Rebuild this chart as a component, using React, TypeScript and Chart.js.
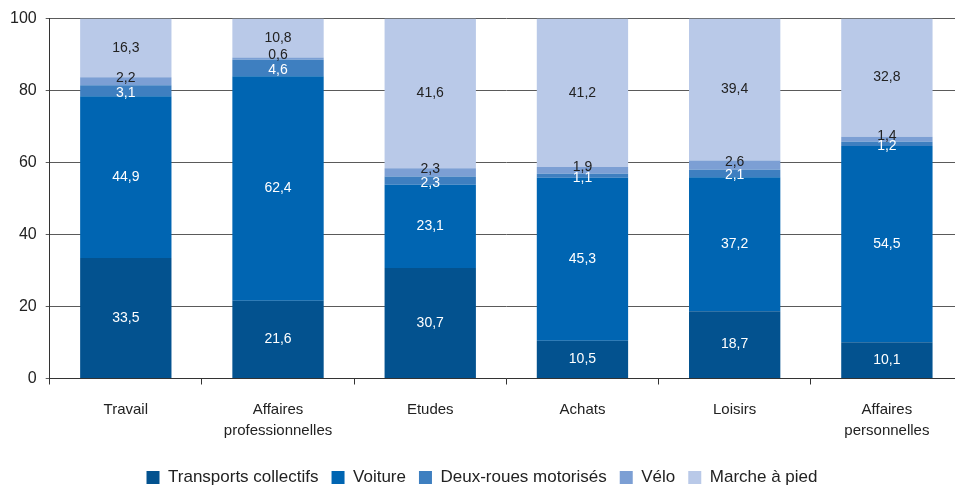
import React, { useEffect, useRef } from "react";
import { Chart, registerables } from "chart.js";

Chart.register(...registerables);

const categories: (string | string[])[] = [
  "Travail",
  ["Affaires", "professionnelles"],
  "Etudes",
  "Achats",
  "Loisirs",
  ["Affaires", "personnelles"],
];

const transportsCollectifs = [33.5, 21.6, 30.7, 10.5, 18.7, 10.1];
const voiture = [44.9, 62.4, 23.1, 45.3, 37.2, 54.5];
const deuxRoues = [3.1, 4.6, 2.3, 1.1, 2.1, 1.2];
const velo = [2.2, 0.6, 2.3, 1.9, 2.6, 1.4];
const marche = [16.3, 10.8, 41.6, 41.2, 39.4, 32.8];

const yTicks = [0, 20, 40, 60, 80, 100];

const FONT = "'Liberation Sans Narrow', 'Arial Narrow', 'Liberation Sans', Arial, sans-serif";

const labelColors = ["#ffffff", "#ffffff", "#ffffff", "#222222", "#222222"];
const labelOffsets = [0, 0, 2, -3, 0];

const valueLabels = {
  id: "valueLabels",
  afterDatasetsDraw(chart: any) {
    const ctx = chart.ctx;
    ctx.save();
    ctx.font = `14px ${FONT}`;
    ctx.textAlign = "center";
    ctx.textBaseline = "middle";
    chart.data.datasets.forEach((ds: any, di: number) => {
      const meta = chart.getDatasetMeta(di);
      meta.data.forEach((el: any, i: number) => {
        const v = ds.data[i];
        const cy = (el.y + el.base) / 2 + labelOffsets[di];
        ctx.fillStyle = labelColors[di];
        ctx.fillText(v.toFixed(1).replace(".", ","), el.x, cy);
      });
    });
    ctx.restore();
  },
};

export default function App() {
  const ref = useRef<HTMLCanvasElement>(null);
  useEffect(() => {
    if (!ref.current) return;
    const chart = new Chart(ref.current, {
      type: "bar",
      data: {
        labels: categories,
        datasets: [
          { label: "Transports collectifs", data: transportsCollectifs, backgroundColor: "#03528f" },
          { label: "Voiture", data: voiture, backgroundColor: "#0065b2" },
          { label: "Deux-roues motorisés", data: deuxRoues, backgroundColor: "#3e7fc0" },
          { label: "Vélo", data: velo, backgroundColor: "#7c9fd4" },
          { label: "Marche à pied", data: marche, backgroundColor: "#b9c9e8" },
        ],
      },
      options: {
        animation: false,
        responsive: false,
        maintainAspectRatio: false,
        layout: { padding: { left: 1, right: 0, top: 10, bottom: 0 } },
        datasets: { bar: { categoryPercentage: 1, barPercentage: 0.6 } },
        scales: {
          x: {
            stacked: true,
            grid: {
              display: true,
              drawOnChartArea: false,
              drawTicks: true,
              tickLength: 6,
              color: "#333",
              offset: true,
            },
            border: { display: true, color: "#333", width: 1 },
            ticks: {
              color: "#222",
              font: { family: FONT, size: 15, lineHeight: 1.45 },
              padding: 14,
              maxRotation: 0,
              autoSkip: false,
            },
          },
          y: {
            stacked: true,
            min: 0,
            max: 100,
            afterBuildTicks: (axis: any) => {
              axis.ticks = yTicks.map((v) => ({ value: v }));
            },
            grid: { color: "#5a5a5a", lineWidth: 1, tickLength: 4, drawTicks: true },
            border: { display: true, color: "#333", width: 1 },
            ticks: {
              color: "#222",
              font: { family: FONT, size: 16 },
              padding: 9,
            },
          },
        },
        plugins: {
          legend: {
            position: "bottom",
            labels: {
              boxWidth: 13,
              boxHeight: 13,
              color: "#222",
              font: { family: FONT, size: 17 },
              padding: 13,
            },
          },
          tooltip: { enabled: false },
        },
      },
      plugins: [valueLabels],
    });
    return () => chart.destroy();
  }, []);
  return (
    <div style={{ position: "fixed", left: 0, top: 0, width: 955, height: 485, overflow: "hidden", background: "#fff" }}>
      <canvas ref={ref} width={963} height={496} style={{ width: 963, height: 496, display: "block" }} />
    </div>
  );
}
